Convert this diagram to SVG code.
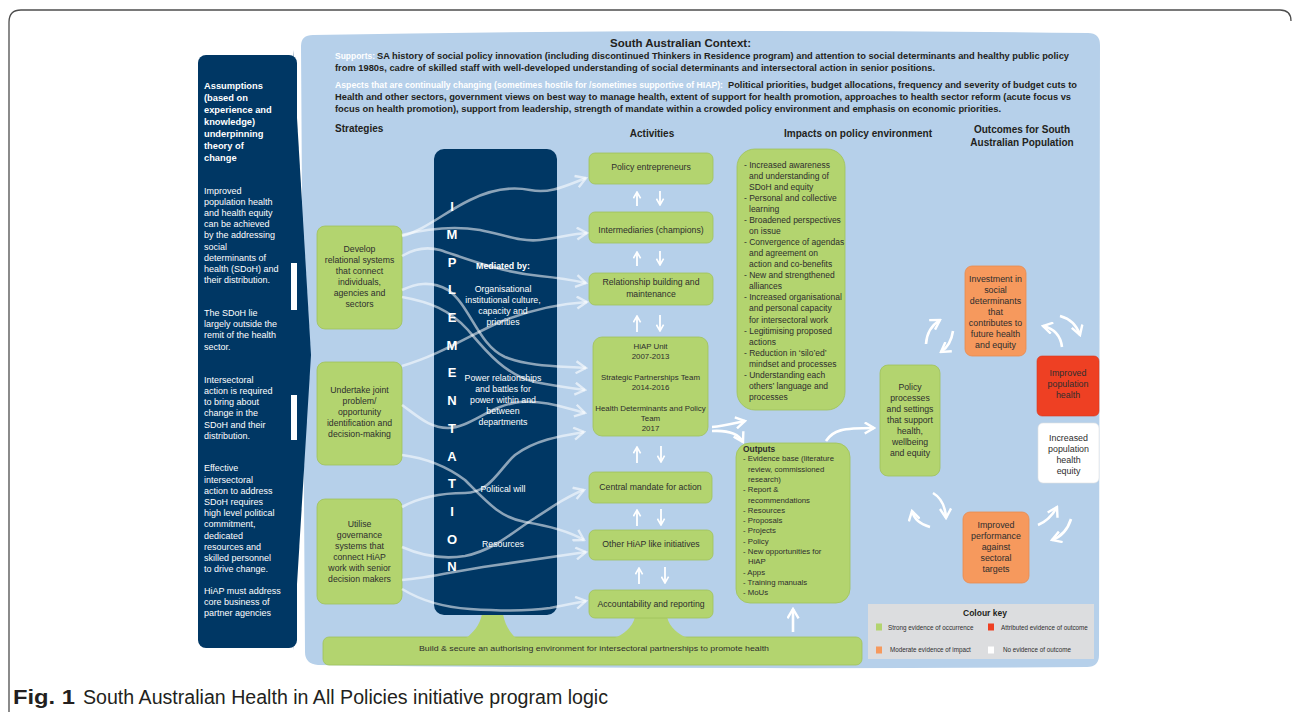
<svg xmlns="http://www.w3.org/2000/svg" width="1292" height="712" viewBox="0 0 1292 712">
<defs>
<style>
.t{font-family:"Liberation Sans",Arial,sans-serif;fill:#2e2e2e}
.h{font-family:"Liberation Sans",Arial,sans-serif;fill:#231f20;font-weight:bold}
.b{font-weight:bold}
.w{fill:#ffffff}
.c{text-anchor:middle}
.g{fill:#b3d46f;stroke:#9fc15b;stroke-width:0.8}
.o{fill:#f6995d;stroke:#e98a4f;stroke-width:0.8}
.flow{fill:none;stroke:#ffffff;stroke-opacity:0.55;stroke-width:2.6;marker-end:url(#chev)}
.wa{fill:none;stroke:#ffffff;stroke-width:2.6;marker-end:url(#wh)}
.sa{fill:none;stroke:#ffffff;stroke-width:1.8;marker-end:url(#sm)}
.box8{font-size:8.7px}
</style>
<marker id="chev" viewBox="0 0 14 14" refX="12" refY="7" markerWidth="14" markerHeight="14" markerUnits="userSpaceOnUse" orient="auto">
<path d="M2,1 L12,7 L2,13" fill="none" stroke="#ffffff" stroke-opacity="0.6" stroke-width="2.4"/>
</marker>
<marker id="wh" viewBox="0 0 14 14" refX="12" refY="7" markerWidth="13" markerHeight="13" markerUnits="userSpaceOnUse" orient="auto">
<path d="M2,1 L12,7 L2,13" fill="none" stroke="#ffffff" stroke-width="2.6"/>
</marker>
<marker id="sm" viewBox="0 0 10 10" refX="9" refY="5" markerWidth="9" markerHeight="9" markerUnits="userSpaceOnUse" orient="auto">
<path d="M2,1 L9,5 L2,9" fill="none" stroke="#ffffff" stroke-width="1.8"/>
</marker>
</defs>

<rect x="0" y="0" width="1292" height="712" fill="#ffffff"/>
<path d="M9,712 V22 Q9,10 21,10 H1280 Q1291,10 1291,21" fill="none" stroke="#4d4d4d" stroke-width="1.3"/>

<g id="context">
<path d="M301,46 Q301,35 313,35 Q700,28 1088,33 Q1100,33 1100,45 L1099,655 Q1099,667 1087,667 Q700,670 318,665 Q305,664 305,652 Z" fill="#b6d0ea"/>
<text class="h" x="610" y="47" font-size="11.4" textLength="141" lengthAdjust="spacingAndGlyphs">South Australian Context:</text>
<text class="h w" x="335" y="58.5" font-size="9.5" textLength="40" lengthAdjust="spacingAndGlyphs">Supports:</text>
<text class="h" x="377" y="58.5" font-size="9.5" textLength="692" lengthAdjust="spacingAndGlyphs">SA history of social policy innovation (including discontinued Thinkers in Residence program) and attention to social determinants and healthy public policy</text>
<text class="h" x="335" y="70.8" font-size="9.5" textLength="600" lengthAdjust="spacingAndGlyphs">from 1980s, cadre of skilled staff with well-developed understanding of social determinants and intersectoral action in senior positions.</text>
<text class="h w" x="335" y="87.6" font-size="9.5" textLength="388" lengthAdjust="spacingAndGlyphs">Aspects that are continually changing (sometimes hostile for /sometimes supportive of HIAP):</text>
<text class="h" x="728" y="87.6" font-size="9.5" textLength="349" lengthAdjust="spacingAndGlyphs">Political priorities, budget allocations, frequency and severity of budget cuts to</text>
<text class="h" x="335" y="99.6" font-size="9.5" textLength="736" lengthAdjust="spacingAndGlyphs">Health and other sectors, government views on best way to manage health, extent of support for health promotion, approaches to health sector reform (acute focus vs</text>
<text class="h" x="335" y="111.8" font-size="9.5" textLength="666" lengthAdjust="spacingAndGlyphs">focus on health promotion), support from leadership,  strength of mandate within a crowded policy environment and emphasis on economic priorities.</text>
<text class="h" x="335" y="132" font-size="10">Strategies</text>
<text class="h c" x="652" y="137" font-size="10">Activities</text>
<text class="h" x="784" y="137" font-size="10" textLength="148" lengthAdjust="spacingAndGlyphs">Impacts on policy environment</text>
<text class="h c" x="1022" y="133" font-size="10">Outcomes for South</text>
<text class="h c" x="1022" y="146" font-size="10">Australian Population</text>
</g>

<g id="assumptions">
<polygon points="293,50 311,355 293,650" fill="#003764"/>
<rect x="198" y="55" width="99" height="593" rx="8" fill="#003764"/>
<rect x="291" y="263" width="6" height="47" fill="#ffffff"/>
<rect x="291" y="395" width="6" height="45" fill="#ffffff"/>
<g class="t w" font-size="9.3" font-weight="bold">
<text x="204" y="88.5" class="w">Assumptions</text>
<text x="204" y="100.5" class="w">(based on</text>
<text x="204" y="112.5" class="w">experience and</text>
<text x="204" y="124.5" class="w">knowledge)</text>
<text x="204" y="136.5" class="w">underpinning</text>
<text x="204" y="148.5" class="w">theory of</text>
<text x="204" y="160.5" class="w">change</text>
</g>
<g font-family="Liberation Sans, Arial, sans-serif" font-size="9" fill="#ffffff">
<text x="204" y="193.5">Improved</text>
<text x="204" y="204.7">population health</text>
<text x="204" y="215.9">and health equity</text>
<text x="204" y="227.1">can be achieved</text>
<text x="204" y="238.3">by the addressing</text>
<text x="204" y="249.5">social</text>
<text x="204" y="260.7">determinants of</text>
<text x="204" y="271.9">health (SDoH) and</text>
<text x="204" y="283.1">their distribution.</text>
<text x="204" y="316">The SDoH lie</text>
<text x="204" y="327.2">largely outside the</text>
<text x="204" y="338.4">remit of the health</text>
<text x="204" y="349.6">sector.</text>
<text x="204" y="382.7">Intersectoral</text>
<text x="204" y="393.9">action is required</text>
<text x="204" y="405.1">to bring about</text>
<text x="204" y="416.3">change in the</text>
<text x="204" y="427.5">SDoH and their</text>
<text x="204" y="438.7">distribution.</text>
<text x="204" y="471.4">Effective</text>
<text x="204" y="482.6">intersectoral</text>
<text x="204" y="493.8">action to address</text>
<text x="204" y="505">SDoH requires</text>
<text x="204" y="516.2">high level political</text>
<text x="204" y="527.4">commitment,</text>
<text x="204" y="538.6">dedicated</text>
<text x="204" y="549.8">resources and</text>
<text x="204" y="561">skilled personnel</text>
<text x="204" y="572.2">to drive change.</text>
<text x="204" y="593.7">HiAP must address</text>
<text x="204" y="604.9">core business of</text>
<text x="204" y="616.1">partner agencies</text>
</g>
</g>

<g id="strategy-relational">
<rect class="g" x="317" y="226" width="85" height="103" rx="8"/>
<g class="t c box8">
<text x="359.5" y="251.5">Develop</text>
<text x="359.5" y="262.5">relational systems</text>
<text x="359.5" y="273.7">that connect</text>
<text x="359.5" y="284.7">individuals,</text>
<text x="359.5" y="295.7">agencies and</text>
<text x="359.5" y="306.7">sectors</text>
</g>
</g>
<g id="strategy-joint">
<rect class="g" x="317" y="362" width="85" height="103" rx="8"/>
<g class="t c box8">
<text x="359.5" y="392.5">Undertake joint</text>
<text x="359.5" y="403.5">problem/</text>
<text x="359.5" y="414.5">opportunity</text>
<text x="359.5" y="426">identification and</text>
<text x="359.5" y="437.2">decision-making</text>
</g>
</g>
<g id="strategy-governance">
<rect class="g" x="317" y="499" width="85" height="105" rx="8"/>
<g class="t c box8">
<text x="359.5" y="527">Utilise</text>
<text x="359.5" y="538">governance</text>
<text x="359.5" y="549">systems that</text>
<text x="359.5" y="560">connect HiAP</text>
<text x="359.5" y="571">work with senior</text>
<text x="359.5" y="582">decision makers</text>
</g>
</g>

<g id="authorising-environment">
<rect class="g" x="323" y="637" width="539" height="28" rx="6"/>
<path d="M482,614 L503,614 C505,625 510,633 517,639 L465,639 C473,633 480,625 482,614 Z" fill="#b3d46f"/>
<path d="M635,617 L667,617 C670,628 678,634 689,639 L613,639 C624,634 632,628 635,617 Z" fill="#b3d46f"/>
<text class="t" x="419" y="650.5" font-size="8" textLength="350" lengthAdjust="spacingAndGlyphs">Build &amp; secure an authorising environment for intersectoral partnerships to promote health</text>
</g>

<g id="implementation">
<rect x="434" y="149" width="123" height="466" rx="10" fill="#003764"/>
<g class="t c b w" font-size="13">
<text class="w" x="452" y="211.2">I</text>
<text class="w" x="452" y="238.9">M</text>
<text class="w" x="452" y="266.6">P</text>
<text class="w" x="452" y="294.3">L</text>
<text class="w" x="452" y="322">E</text>
<text class="w" x="452" y="349.7">M</text>
<text class="w" x="452" y="377.4">E</text>
<text class="w" x="452" y="405.1">N</text>
<text class="w" x="452" y="432.8">T</text>
<text class="w" x="452" y="460.5">A</text>
<text class="w" x="452" y="488.2">T</text>
<text class="w" x="452" y="515.9">I</text>
<text class="w" x="452" y="543.6">O</text>
<text class="w" x="452" y="571.3">N</text>
</g>
<g font-family="Liberation Sans, Arial, sans-serif" font-size="8.8" fill="#ffffff" text-anchor="middle">
<text x="503" y="269" font-weight="bold">Mediated by:</text>
<text x="503" y="291.5">Organisational</text>
<text x="503" y="302.5">institutional culture,</text>
<text x="503" y="314">capacity and</text>
<text x="503" y="325">priorities</text>
<text x="503" y="380.5">Power relationships</text>
<text x="503" y="391.5">and battles for</text>
<text x="503" y="402.5">power within and</text>
<text x="503" y="413.5">between</text>
<text x="503" y="424.8">departments</text>
<text x="503" y="491.5">Political will</text>
<text x="503" y="547">Resources</text>
</g>
</g>

<g id="act-policy-entrepreneurs">
<rect class="g" x="589" y="153" width="124" height="31" rx="6"/>
<text class="t c box8" x="651" y="170">Policy entrepreneurs</text>
</g>
<g id="act-intermediaries">
<rect class="g" x="589" y="212" width="124" height="31" rx="6"/>
<text class="t c box8" x="651" y="232.5">Intermediaries (champions)</text>
</g>
<g id="act-relationship">
<rect class="g" x="589" y="273" width="124" height="32" rx="6"/>
<text class="t c box8" x="651" y="285">Relationship building and</text>
<text class="t c box8" x="651" y="296.5">maintenance</text>
</g>
<g id="act-hiap-unit">
<rect class="g" x="593" y="337" width="115" height="99" rx="9"/>
<g class="t c" font-size="7.9">
<text x="650.5" y="349">HiAP Unit</text>
<text x="650.5" y="359">2007-2013</text>
<text x="650.5" y="380">Strategic Partnerships Team</text>
<text x="650.5" y="390">2014-2016</text>
<text x="650.5" y="411">Health Determinants and Policy</text>
<text x="650.5" y="421">Team</text>
<text x="650.5" y="431">2017</text>
</g>
</g>
<g id="act-central-mandate">
<rect class="g" x="589" y="472" width="123" height="31" rx="6"/>
<text class="t c box8" x="650.5" y="490">Central mandate for action</text>
</g>
<g id="act-other-hiap">
<rect class="g" x="589" y="530" width="124" height="30" rx="6"/>
<text class="t c box8" x="651" y="547">Other HiAP like initiatives</text>
</g>
<g id="act-accountability">
<rect class="g" x="589" y="590" width="124" height="28" rx="6"/>
<text class="t c box8" x="651" y="607">Accountability and reporting</text>
</g>

<g id="impacts">
<rect class="g" x="737" y="149" width="108" height="261" rx="18"/>
<g class="t" font-size="8.5">
<text x="744" y="167.5">- Increased awareness</text>
<text x="749" y="178.6">and understanding of</text>
<text x="749" y="189.6">SDoH and equity</text>
<text x="744" y="200.7">- Personal and collective</text>
<text x="749" y="211.8">learning</text>
<text x="744" y="222.9">- Broadened perspectives</text>
<text x="749" y="233.9">on issue</text>
<text x="744" y="245">- Convergence of agendas</text>
<text x="749" y="256.1">and agreement on</text>
<text x="749" y="267.1">action and co-benefits</text>
<text x="744" y="278.2">- New and strengthened</text>
<text x="749" y="289.3">alliances</text>
<text x="744" y="300.3">- Increased organisational</text>
<text x="749" y="311.4">and personal capacity</text>
<text x="749" y="322.5">for intersectoral work</text>
<text x="744" y="333.6">- Legitimising proposed</text>
<text x="749" y="344.6">actions</text>
<text x="744" y="355.7">- Reduction in ‘silo’ed’</text>
<text x="749" y="366.8">mindset and processes</text>
<text x="744" y="377.8">- Understanding each</text>
<text x="749" y="388.9">others’ language and</text>
<text x="749" y="400">processes</text>
</g>
</g>

<g id="outputs">
<rect class="g" x="736" y="443" width="114" height="160" rx="14"/>
<g class="t" font-size="7.8">
<text x="743" y="451.5" font-weight="bold" font-size="8.4">Outputs</text>
<text x="743" y="461.3">- Evidence base (literature</text>
<text x="748" y="471.6">review, commissioned</text>
<text x="748" y="481.9">research)</text>
<text x="743" y="492.2">- Report &amp;</text>
<text x="748" y="502.5">recommendations</text>
<text x="743" y="512.8">- Resources</text>
<text x="743" y="523.1">- Proposals</text>
<text x="743" y="533.4">- Projects</text>
<text x="743" y="543.7">- Policy</text>
<text x="743" y="554">- New opportunities for</text>
<text x="748" y="564.3">HiAP</text>
<text x="743" y="574.6">- Apps</text>
<text x="743" y="584.9">- Training manuals</text>
<text x="743" y="595.2">- MoUs</text>
</g>
</g>

<g id="policy-processes">
<rect class="g" x="880" y="365" width="60" height="111" rx="8"/>
<g class="t c box8">
<text x="910" y="389.8">Policy</text>
<text x="910" y="400.8">processes</text>
<text x="910" y="411.8">and settings</text>
<text x="910" y="422.8">that support</text>
<text x="910" y="433.8">health,</text>
<text x="910" y="444.8">wellbeing</text>
<text x="910" y="455.8">and equity</text>
</g>
</g>
<g id="investment">
<rect class="o" x="965" y="266" width="61" height="90" rx="7"/>
<g class="t c" font-size="8.9">
<text x="995.5" y="281.5">Investment in</text>
<text x="995.5" y="292.5">social</text>
<text x="995.5" y="303.5">determinants</text>
<text x="995.5" y="314.5">that</text>
<text x="995.5" y="325.5">contributes to</text>
<text x="995.5" y="336.5">future health</text>
<text x="995.5" y="347.5">and equity</text>
</g>
</g>
<g id="improved-health">
<rect x="1037" y="356" width="62" height="60" rx="5" fill="#ee4023" stroke="#d8361b" stroke-width="0.6"/>
<g class="t c" font-size="8.9">
<text x="1068" y="375.5">Improved</text>
<text x="1068" y="386.5">population</text>
<text x="1068" y="397.5">health</text>
</g>
</g>
<g id="increased-equity">
<rect x="1038" y="423" width="61" height="60" rx="5" fill="#ffffff" stroke="#e0e0e0" stroke-width="0.6"/>
<g class="t c" font-size="8.9">
<text x="1068.5" y="440.8">Increased</text>
<text x="1068.5" y="452">population</text>
<text x="1068.5" y="463">health</text>
<text x="1068.5" y="474">equity</text>
</g>
</g>
<g id="improved-performance">
<rect class="o" x="963" y="512" width="66" height="71" rx="7"/>
<g class="t c" font-size="8.9">
<text x="996" y="527.5">Improved</text>
<text x="996" y="538.8">performance</text>
<text x="996" y="549.8">against</text>
<text x="996" y="560.8">sectoral</text>
<text x="996" y="571.8">targets</text>
</g>
</g>

<g id="colour-key">
<rect x="868" y="604" width="226" height="55" fill="#dcdddf"/>
<text class="h c" x="985" y="615.5" font-size="8.5">Colour key</text>
<rect x="876" y="623.5" width="6" height="7" fill="#b3d46f"/>
<rect x="988" y="623.5" width="6" height="7" fill="#ee4023"/>
<rect x="876" y="646.5" width="6" height="7" fill="#f6995d"/>
<rect x="988" y="646.5" width="6" height="7" fill="#ffffff"/>
<g class="t" font-size="6.3">
<text x="888" y="629.5">Strong evidence of occurrence</text>
<text x="1001" y="629.5">Attributed evidence of outcome</text>
<text x="890" y="652.2">Moderate evidence of impact</text>
<text x="1003" y="652.2">No evidence of outcome</text>
</g>
</g>

<g id="connectors">
<path class="flow" d="M402,236 C425,230 445,212 470,200 C490,190 510,186 530,190 C550,194 565,186 586,178"/>
<path class="flow" d="M402,235 C430,228 455,226 480,230 C505,235 520,242 540,240 C560,238 570,234 587,233"/>
<path class="flow" d="M402,256 C412,250 425,246 440,250 C470,260 500,272 540,276 C560,278 572,280 586,283"/>
<path class="flow" d="M402,290 C415,284 430,280 448,290 C470,305 478,345 505,357 C530,367 560,366 586,368"/>
<path class="flow" d="M402,297 C430,302 450,310 468,330 C485,350 505,375 535,382 C555,386 570,388 585,390"/>
<path class="flow" d="M402,366 C440,355 470,335 500,322 C530,310 555,304 587,302"/>
<path class="flow" d="M402,405 C420,418 430,428 448,428 C470,428 490,405 520,402 C545,400 565,408 585,413"/>
<path class="flow" d="M402,455 C425,458 445,465 465,480 C485,500 500,518 525,522 C550,526 570,532 584,540"/>
<path class="flow" d="M402,507 C420,497 440,493 465,493 C490,493 500,468 515,455 C535,440 560,436 584,432"/>
<path class="flow" d="M402,547 C420,555 440,560 465,556 C495,550 515,530 535,518 C555,505 570,495 584,490"/>
<path class="flow" d="M402,580 C430,578 460,570 490,566 C530,560 560,556 586,552"/>
<path class="flow" d="M402,589 C420,600 440,607 470,609 C500,611 530,611 550,608 C565,605 575,603 586,601"/>

<path class="sa" d="M637,206 V192"/><path class="sa" d="M660,191 V205"/>
<path class="sa" d="M637,266 V252"/><path class="sa" d="M660,251 V265"/>
<path class="sa" d="M637,332 V316"/><path class="sa" d="M660,315 V331"/>
<path class="sa" d="M637,463 V447"/><path class="sa" d="M661,446 V462"/>
<path class="sa" d="M637,526 V510"/><path class="sa" d="M661,509 V525"/>
<path class="sa" d="M639,584 V568"/><path class="sa" d="M665,567 V583"/>

<path class="wa" d="M712,427 C725,426 735,423 745,421"/>
<path class="wa" d="M712,431 C728,430 738,433 743,442"/>
<path class="wa" d="M826,441 C833,430 842,428 874,428"/>
<path class="wa" d="M793,632 V609"/>

<path class="wa" d="M926,344 Q927,328 940,320"/>
<path class="wa" d="M953,331 Q951,345 941,352"/>
<path class="wa" d="M1062,347 Q1060,330 1043,326"/>
<path class="wa" d="M1060,316 Q1075,320 1080,335"/>
<path class="wa" d="M930,527 Q915,523 912,511"/>
<path class="wa" d="M933,493 Q945,500 946,518"/>
<path class="wa" d="M1038,525 Q1050,520 1057,507"/>
<path class="wa" d="M1071,519 Q1066,535 1052,540"/>
</g>

<g id="caption">
<text x="13" y="704" font-family="Liberation Sans, Arial, sans-serif" font-weight="bold" font-size="19.5" fill="#231f20" textLength="62" lengthAdjust="spacingAndGlyphs">Fig. 1</text>
<text x="83" y="704" font-family="Liberation Sans, Arial, sans-serif" font-size="19.5" fill="#231f20" textLength="525" lengthAdjust="spacingAndGlyphs">South Australian Health in All Policies initiative program logic</text>
</g>
</svg>
